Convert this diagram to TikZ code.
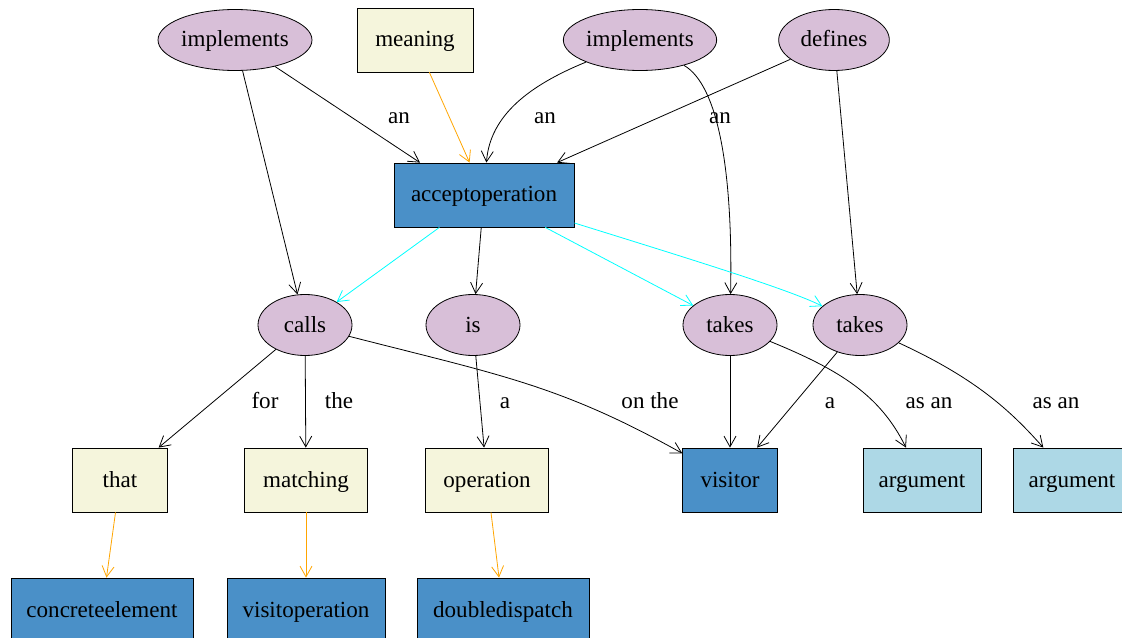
\documentclass[tikz,border=0pt]{standalone}
\usepackage{fontspec}
\setmainfont{Liberation Serif}
\usepackage{tikz}
\usetikzlibrary{arrows.meta,shapes.geometric}
\definecolor{thistle}{HTML}{D8BFD8}
\definecolor{beige}{HTML}{F5F5DC}
\definecolor{steel}{HTML}{4A90C8}
\definecolor{lightblue}{HTML}{ADD8E6}
\definecolor{amber}{HTML}{FFA500}
\definecolor{aqua}{HTML}{00FFFF}
\tikzset{
  relnode/.style={
    ellipse, draw=black, fill=thistle, line width=0.6pt,
    minimum width=#1, minimum height=45.75pt, inner sep=0pt,
    text height=13pt, text depth=2.5pt
  },
  relnode/.default=70.5pt,
  wordbox/.style={
    rectangle, draw=black, fill=#1, line width=0.6pt,
    minimum height=48pt, inner sep=0pt,
    text height=13pt, text depth=2.5pt
  },
  wordbox/.default=beige,
  link/.style={
    draw=#1, line width=0.6pt,
    -{Straight Barb[length=8pt,width=9pt]}
  },
  link/.default=black,
  linklabel/.style={inner sep=0pt, anchor=base},
}

\begin{document}
\begin{tikzpicture}[x=0.75pt, y=-0.75pt, font=\fontsize{17.3}{20}\selectfont]
    \useasboundingbox (0,0) rectangle (1122,638);
    % top row
    \node[relnode=115.5pt] (impl1) at (235,40) {implements};
    \node[wordbox, minimum width=87pt] (meaning) at (415,40) {meaning};
    \node[relnode=115pt] (impl2) at (640,40) {implements};
    \node[relnode=83pt] (defines) at (834,40) {defines};
    \node[wordbox=steel, minimum width=135pt] (accept) at (484,195) {acceptoperation};
    % verbs
    \node[relnode] (calls) at (305,325) {calls};
    \node[relnode] (is) at (473,325) {is};
    \node[relnode] (takes1) at (730,325) {takes};
    \node[relnode] (takes2) at (860,325) {takes};
    % objects
    \node[wordbox, minimum width=71pt] (that) at (120,480) {that};
    \node[wordbox, minimum width=92pt] (matching) at (306,480) {matching};
    \node[wordbox, minimum width=92pt] (operation) at (487,480) {operation};
    \node[wordbox=steel, minimum width=71pt] (visitor) at (730,480) {visitor};
    \node[wordbox=lightblue, minimum width=88.5pt] (arg1) at (922,480) {argument};
    \node[wordbox=lightblue, minimum width=88.5pt] (arg2) at (1072,480) {argument};
    \node[wordbox=steel, minimum width=136.5pt] (concrete) at (102,610) {concreteelement};
    \node[wordbox=steel, minimum width=118.5pt] (visitop) at (306,610) {visitoperation};
    \node[wordbox=steel, minimum width=129pt] (dispatch) at (503,610) {doubledispatch};

    % edges into acceptoperation
    \draw[link] (impl1) -- ([xshift=-48pt]accept.north);
    \draw[link=amber] (meaning) -- (accept);
    \draw[link] (impl2) .. controls (530,85) and (490,115) .. (accept);
    \draw[link] (defines) -- (accept);
    \draw[link] (impl1) -- (calls);
    \draw[link] (impl2) .. controls (718,85) and (733,170) .. (takes1);
    \draw[link] (defines) -- (takes2);
    \node[linklabel] (l1) at (399,124) {an};
    \node[linklabel] (l2) at (545,124) {an};
    \node[linklabel] (l3) at (720,124) {an};

    % out of acceptoperation
    \draw[link=aqua] (accept) -- (calls);
    \draw[link] (accept) -- (is);
    \draw[link=aqua] (accept) -- (takes1);
    \draw[link=aqua] (accept) .. controls (700,262) and (790,290) .. (takes2);

    % verbs to objects
    \draw[link] (calls) -- (that);
    \draw[link] (calls) -- (matching);
    \draw[link] (calls) .. controls (500,375) and (560,385) .. (visitor);
    \draw[link] (is) -- (operation);
    \draw[link] (takes1) -- (visitor);
    \draw[link] (takes2) -- (visitor);
    \draw[link] (takes1) .. controls (840,370) and (880,395) .. (arg1);
    \draw[link] (takes2) .. controls (975,378) and (1010,410) .. (arg2);
    \node[linklabel] (l4) at (265,408) {for};
    \node[linklabel] (l5) at (339,408) {the};
    \node[linklabel] (l6) at (505,408) {a};
    \node[linklabel] (l7) at (650,408) {on the};
    \node[linklabel] (l8) at (830,408) {a};
    \node[linklabel] (l9) at (929,408) {as an};
    \node[linklabel] (l10) at (1056,408) {as an};

    % meanings
    \draw[link=amber] (that) -- (concrete);
    \draw[link=amber] (matching) -- (visitop);
    \draw[link=amber] (operation) -- (dispatch);
\end{tikzpicture}
\end{document}
